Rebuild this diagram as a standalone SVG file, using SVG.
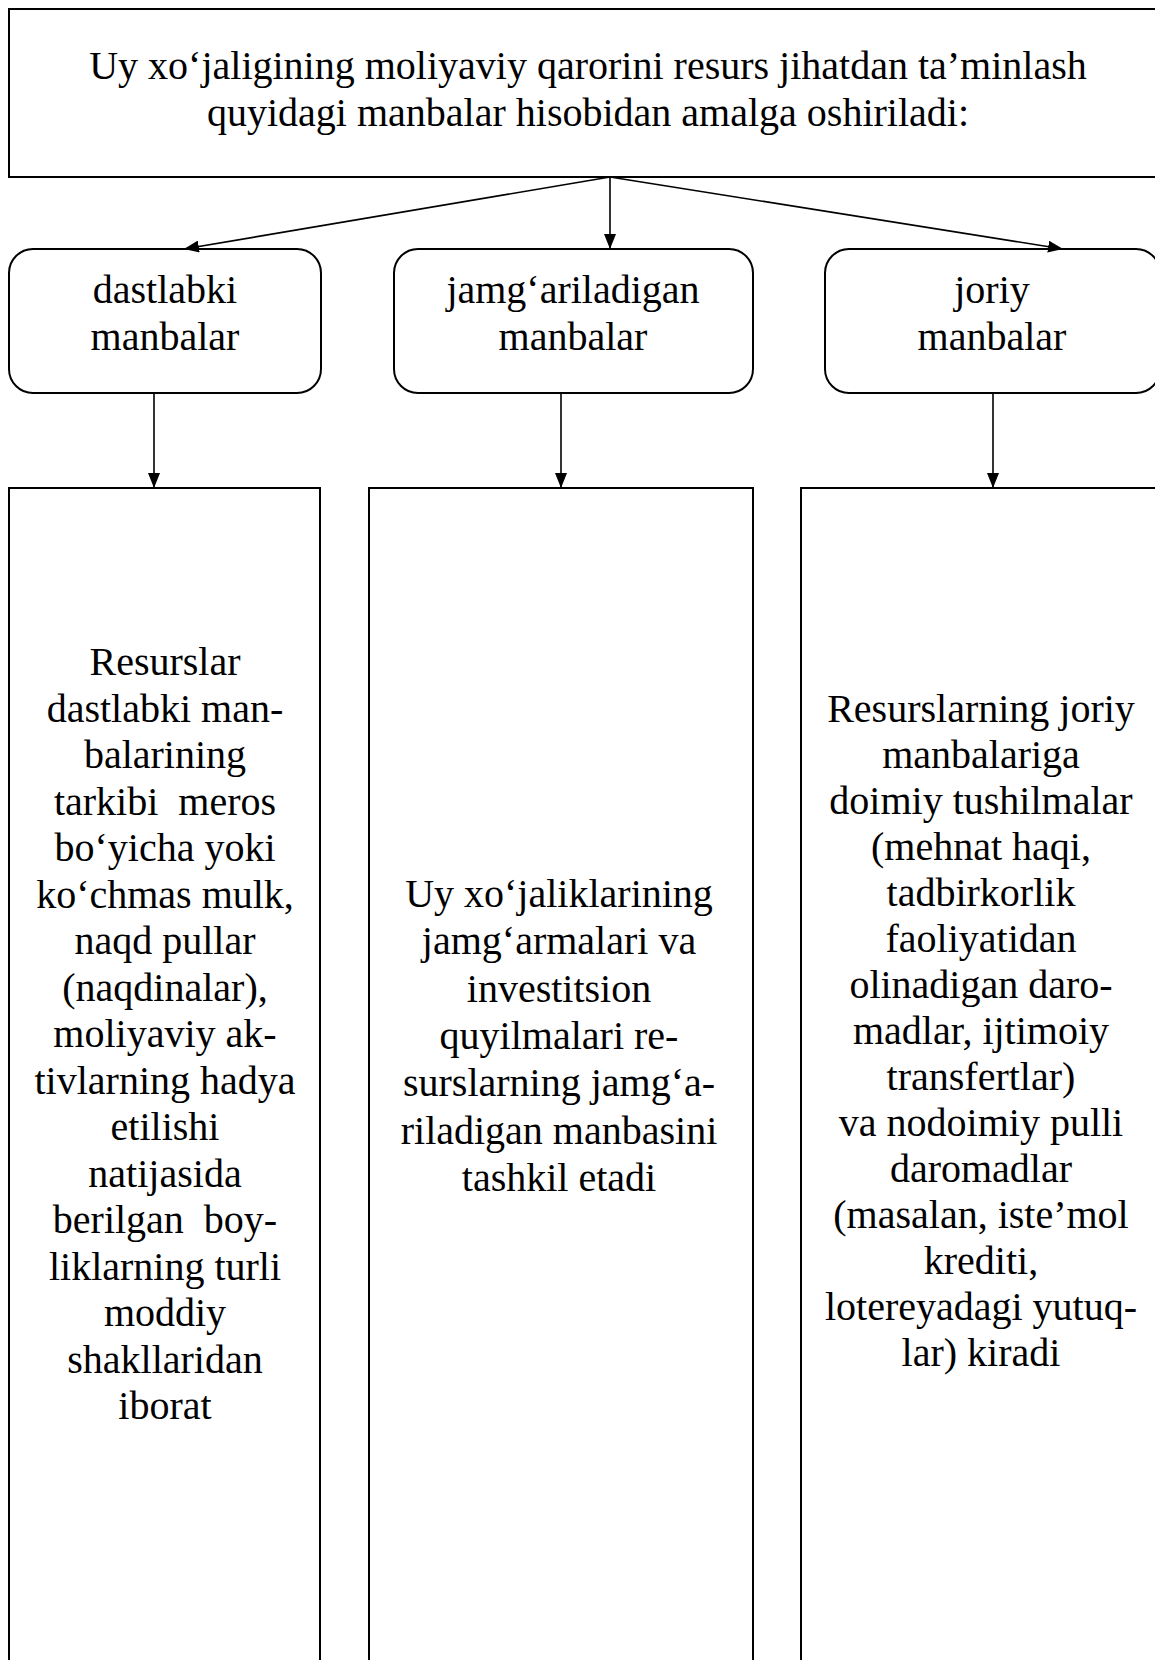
<svg xmlns="http://www.w3.org/2000/svg" width="1155" height="1660" viewBox="0 0 1155 1660">
<style>
.box{fill:#fff;stroke:#000;stroke-width:2}
.t{font-family:"Liberation Serif","Times New Roman",serif;font-size:40px;fill:#000;text-anchor:middle;white-space:pre}
.c{stroke:#000;stroke-width:1.6;fill:none;marker-end:url(#ah)}
</style>
<defs>
<marker id="ah" markerUnits="userSpaceOnUse" markerWidth="16" markerHeight="12" refX="15" refY="6" orient="auto">
<path d="M0,0 L15,6 L0,12 z" fill="#000"/>
</marker>
</defs>
<rect width="1155" height="1660" fill="#fff"/>
<g id="top">
<rect class="box" x="9" y="9" width="1160" height="168"/>
<text class="t" xml:space="preserve"><tspan x="588" y="79">Uy xo‘jaligining moliyaviy qarorini resurs jihatdan ta’minlash</tspan><tspan x="588" y="126">quyidagi manbalar hisobidan amalga oshiriladi:</tspan></text>
</g>
<g id="src1">
<rect class="box" x="9" y="249" width="312" height="144" rx="24"/>
<text class="t"><tspan x="165" y="303">dastlabki</tspan><tspan x="165" y="350">manbalar</tspan></text>
</g>
<g id="src2">
<rect class="box" x="394" y="249" width="359" height="144" rx="24"/>
<text class="t"><tspan x="573" y="303">jamg‘ariladigan</tspan><tspan x="573" y="350">manbalar</tspan></text>
</g>
<g id="src3">
<rect class="box" x="825" y="249" width="335" height="144" rx="24"/>
<text class="t"><tspan x="992" y="303">joriy</tspan><tspan x="992" y="350">manbalar</tspan></text>
</g>
<g id="desc1">
<rect class="box" x="9" y="488" width="311" height="1200"/>
<text class="t" xml:space="preserve"><tspan x="165" y="675">Resurslar</tspan><tspan x="165" y="721.5">dastlabki man-</tspan><tspan x="165" y="768">balarining</tspan><tspan x="165" y="814.5">tarkibi  meros</tspan><tspan x="165" y="861">bo‘yicha yoki</tspan><tspan x="165" y="907.5">ko‘chmas mulk,</tspan><tspan x="165" y="954">naqd pullar</tspan><tspan x="165" y="1000.5">(naqdinalar),</tspan><tspan x="165" y="1047">moliyaviy ak-</tspan><tspan x="165" y="1093.5">tivlarning hadya</tspan><tspan x="165" y="1140">etilishi</tspan><tspan x="165" y="1186.5">natijasida</tspan><tspan x="165" y="1233">berilgan  boy-</tspan><tspan x="165" y="1279.5">liklarning turli</tspan><tspan x="165" y="1326">moddiy</tspan><tspan x="165" y="1372.5">shakllaridan</tspan><tspan x="165" y="1419">iborat</tspan></text>
</g>
<g id="desc2">
<rect class="box" x="369" y="488" width="384" height="1200"/>
<text class="t"><tspan x="559" y="907">Uy xo‘jaliklarining</tspan><tspan x="559" y="954.3">jamg‘armalari va</tspan><tspan x="559" y="1001.6">investitsion</tspan><tspan x="559" y="1048.9">quyilmalari re-</tspan><tspan x="559" y="1096.2">surslarning jamg‘a-</tspan><tspan x="559" y="1143.5">riladigan manbasini</tspan><tspan x="559" y="1190.8">tashkil etadi</tspan></text>
</g>
<g id="desc3">
<rect class="box" x="801" y="488" width="361" height="1200"/>
<text class="t"><tspan x="981" y="721.5">Resurslarning joriy</tspan><tspan x="981" y="767.5">manbalariga</tspan><tspan x="981" y="813.5">doimiy tushilmalar</tspan><tspan x="981" y="859.5">(mehnat haqi,</tspan><tspan x="981" y="905.5">tadbirkorlik</tspan><tspan x="981" y="951.5">faoliyatidan</tspan><tspan x="981" y="997.5">olinadigan daro-</tspan><tspan x="981" y="1043.5">madlar, ijtimoiy</tspan><tspan x="981" y="1089.5">transfertlar)</tspan><tspan x="981" y="1135.5">va nodoimiy pulli</tspan><tspan x="981" y="1181.5">daromadlar</tspan><tspan x="981" y="1227.5">(masalan, iste’mol</tspan><tspan x="981" y="1273.5">krediti,</tspan><tspan x="981" y="1319.5">lotereyadagi yutuq-</tspan><tspan x="981" y="1365.5">lar) kiradi</tspan></text>
</g>
<g id="connectors">
<line class="c" x1="610" y1="177" x2="184" y2="249"/>
<line class="c" x1="610" y1="177" x2="610" y2="249"/>
<line class="c" x1="610" y1="177" x2="1063" y2="249"/>
<line class="c" x1="154" y1="393" x2="154" y2="488"/>
<line class="c" x1="561" y1="393" x2="561" y2="488"/>
<line class="c" x1="993" y1="393" x2="993" y2="488"/>
</g>
</svg>
